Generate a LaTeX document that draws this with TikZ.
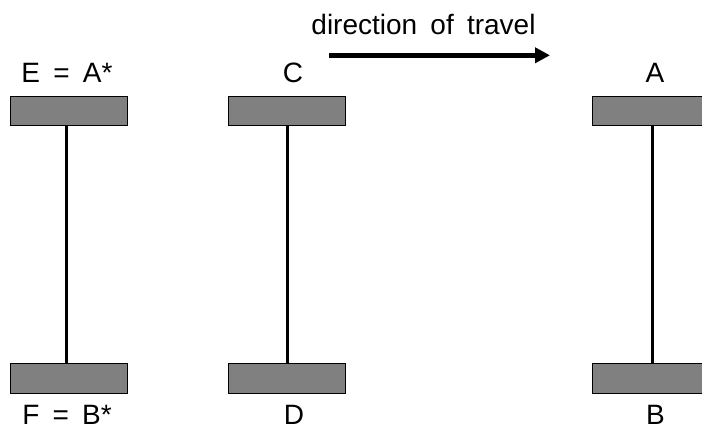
\documentclass[tikz,border=0pt]{standalone}
\usepackage{fontspec}
\setmainfont{Liberation Sans}[WordSpace=1.7]
\usetikzlibrary{arrows.meta}
\begin{document}
\begin{tikzpicture}[x=1pt,y=-1pt,
  plate/.style={draw=black,line width=1pt,fill=black!50,minimum width=117.7pt,minimum height=29.5pt,inner sep=0pt,outer sep=0pt},
  lbl/.style={anchor=base,inner sep=0pt,text depth=0pt,font=\fontsize{28}{32}\selectfont},
  axle/.style={line width=2.6pt},
  travel/.style={line width=5.5pt,-{Triangle[length=15pt,width=15pt]}}]
\useasboundingbox (0,0) rectangle (702,428);
\begin{scope}
\clip (0,0) rectangle (702,428);
% plates
\node[plate] (t1) at (68.9,111) {};
\node[plate] (b1) at (68.9,378.5) {};
\node[plate] (t2) at (286.9,111) {};
\node[plate] (b2) at (286.9,378.5) {};
\node[plate] (t3) at (651,111) {};
\node[plate] (b3) at (651,378.5) {};
% axles
\draw[axle] ([xshift=-2.6pt]t1.south) -- ([xshift=-2.6pt]b1.north);
\draw[axle] ([xshift=0.8pt]t2.south) -- ([xshift=0.8pt]b2.north);
\draw[axle] ([xshift=1.7pt]t3.south) -- ([xshift=1.7pt]b3.north);
\end{scope}
% labels
\node[lbl] (le) at (67,83) {E = A*};
\node[lbl] (lc) at (293,83) {C};
\node[lbl] (la) at (655,83) {A};
\node[lbl] (lf) at (67,424) {F = B*};
\node[lbl] (ld) at (294,424) {D};
\node[lbl] (lb) at (655.5,424) {B};
\node[lbl] (dir) at (423.5,35) {direction of travel};
% arrow
\coordinate (as) at (329,55.3);
\coordinate (ae) at (550,55.3);
\draw[travel] (as) -- (ae);
\end{tikzpicture}
\end{document}
